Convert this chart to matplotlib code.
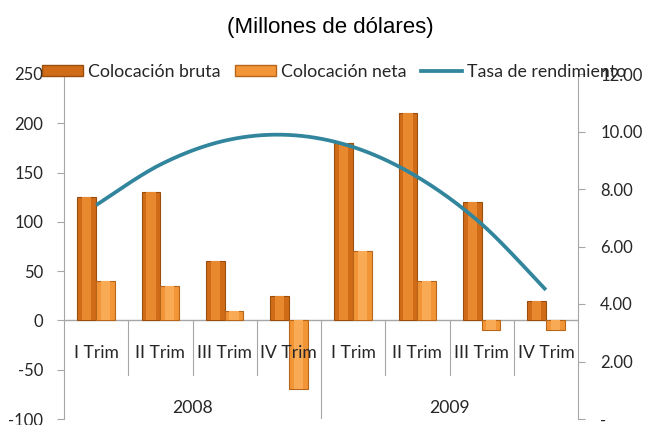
import numpy as np
import matplotlib.pyplot as plt
from matplotlib.patches import Patch
from matplotlib.lines import Line2D

# data
quarters = ["I Trim", "II Trim", "III Trim", "IV Trim", "I Trim", "II Trim", "III Trim", "IV Trim"]
years = ["2008", "2009"]
bruta = [125, 130, 60, 25, 180, 210, 120, 20]
neta = [40, 35, 10, -70, 70, 40, -10, -10]
tasa = [7.44, 8.85, 9.68, 9.88, 9.46, 8.42, 6.78, 4.49]

plt.rcParams['font.family'] = ['Lato', 'DejaVu Sans']
plt.rcParams['axes.unicode_minus'] = False
txt = '#262626'
gray = '#A6A6A6'
teal = '#31859C'

fig = plt.figure(figsize=(6.49, 4.25), dpi=100)
ax = fig.add_axes([64/649, 1-419/425, (578-64)/649, (419-74)/425])
x = np.arange(len(quarters))
w = 0.29

ax.bar(x - w/2, bruta, w, color='#D06C18', edgecolor='#9A4E0E', linewidth=0.8, zorder=2)
ax.bar(x + w/2, neta, w, color='#F29536', edgecolor='#B8651C', linewidth=0.8, zorder=2)
# lighter centre stripe for a little bevel look
ax.bar(x - w/2, bruta, w*0.5, color='#E8892F', linewidth=0, zorder=3)
ax.bar(x + w/2, neta, w*0.5, color='#F8AA55', linewidth=0, zorder=3)

ax.set_xlim(-0.5, 7.5)
ax.set_ylim(-100, 250)
ax.set_yticks(range(-100, 251, 50))
ax.set_xticks([])
for s in ['top', 'bottom', 'right']:
    ax.spines[s].set_visible(False)
ax.spines['left'].set_color(gray)
ax.tick_params(axis='y', colors=gray, labelcolor=txt, labelsize=12, length=5, pad=10)
ax.axhline(0, color=gray, lw=1, zorder=1)

# category labels and dividers
for i in range(1, 8):
    ymin = -100 if i == 4 else -55
    ax.plot([i - 0.5, i - 0.5], [0, ymin], color=gray, lw=0.8, zorder=1)
for i, q in enumerate(quarters):
    ax.text(i, -33, q, ha='center', va='center', fontsize=12.6, color=txt)
ax.text(1.5, -89, years[0], ha='center', va='center', fontsize=12.6, color=txt)
ax.text(5.5, -89, years[1], ha='center', va='center', fontsize=12.6, color=txt)

# right axis
ax2 = ax.twinx()
ax2.set_ylim(0, 12)
ax2.set_yticks(range(0, 13, 2))
ax2.set_yticklabels(['-'] + ['%.2f' % v for v in range(2, 13, 2)])
for s in ['top', 'bottom', 'left']:
    ax2.spines[s].set_visible(False)
ax2.spines['right'].set_color(gray)
ax2.tick_params(axis='y', colors=gray, labelcolor=txt, labelsize=12, length=5, pad=11)

# smoothed line (Catmull-Rom style, as the spreadsheet does)
pts = np.column_stack([x, tasa]).astype(float)
P = np.vstack([pts[0], pts, pts[-1]])
xs, ys = [], []
t = np.linspace(0, 1, 30)
for k in range(1, len(P) - 2):
    p0, p1, p2, p3 = P[k-1], P[k], P[k+1], P[k+2]
    c1 = p1 + (p2 - p0) / 6
    c2 = p2 - (p3 - p1) / 6
    seg = ((1-t)**3)[:, None]*p1 + (3*(1-t)**2*t)[:, None]*c1 + (3*(1-t)*t**2)[:, None]*c2 + (t**3)[:, None]*p2
    xs.extend(seg[:, 0]); ys.extend(seg[:, 1])
ax2.plot(xs, ys, color=teal, lw=2.7, solid_capstyle='butt', zorder=4)

# legend
handles = [Patch(facecolor='#D06C18', edgecolor='#9A4E0E'),
           Patch(facecolor='#F29536', edgecolor='#B8651C'),
           Line2D([], [], color=teal, lw=2.7)]
fig.legend(handles, ['Colocación bruta', 'Colocación neta', 'Tasa de rendimiento'],
           loc='center', bbox_to_anchor=(334/649, 1-72/425), ncol=3, frameon=False,
           fontsize=12.8, handlelength=2.3, handleheight=0.55, columnspacing=0.8,
           handletextpad=0.3, labelcolor=txt, borderpad=0, borderaxespad=0)

fig.text(330/649, 1-28/425, '(Millones de dólares)', ha='center', va='center',
         fontsize=16, family='Liberation Sans', color='#000000')

fig.savefig('out.png', dpi=100)
